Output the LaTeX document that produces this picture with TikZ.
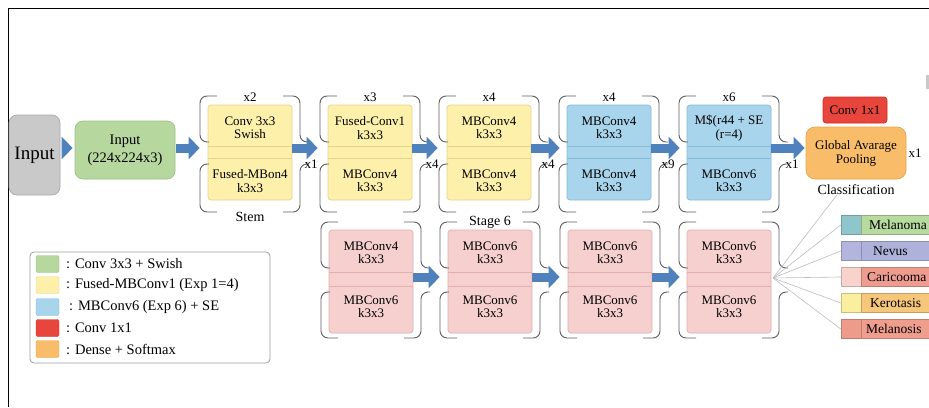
\documentclass[tikz,border=0pt]{standalone}
\usepackage{fontspec}
\setmainfont{Liberation Serif}
\usetikzlibrary{arrows.meta,calc}

\definecolor{grayfill}{HTML}{C9C9C9}
\definecolor{grayline}{HTML}{A8A8A8}
\definecolor{grnfill}{HTML}{B6D79E}
\definecolor{grnline}{HTML}{9CC386}
\definecolor{yelfill}{HTML}{FDF0AA}
\definecolor{yelline}{HTML}{E6D38E}
\definecolor{blufill}{HTML}{A9D5EC}
\definecolor{bluline}{HTML}{86BCD9}
\definecolor{pnkfill}{HTML}{F6D0CE}
\definecolor{pnkline}{HTML}{E2AFAC}
\definecolor{redfill}{HTML}{E8453C}
\definecolor{redline}{HTML}{CC3128}
\definecolor{orgfill}{HTML}{F9BD69}
\definecolor{orgline}{HTML}{E9A449}
\definecolor{arrblue}{HTML}{4F81BD}
\definecolor{brkgray}{HTML}{5E5E5E}
\definecolor{fangray}{HTML}{BDBDBD}
\definecolor{legline}{HTML}{9E9E9E}
\definecolor{tealsq}{HTML}{8FC6CB}
\definecolor{melgrn}{HTML}{B7DA9F}
\definecolor{nevsq}{HTML}{B3B5DD}
\definecolor{nevbar}{HTML}{AEB1DA}
\definecolor{carsq}{HTML}{F7D3CC}
\definecolor{carbar}{HTML}{EE9C8F}
\definecolor{kersq}{HTML}{F9EF9E}
\definecolor{kerbar}{HTML}{F6C77A}
\definecolor{mlssq}{HTML}{EF9B8B}
\definecolor{mlsbar}{HTML}{EF9D8D}

\tikzset{
  bx/.style={rounded corners=3pt, line width=0.7pt, inner sep=0pt},
  yel/.style={bx, fill=yelfill, draw=yelline},
  blu/.style={bx, fill=blufill, draw=bluline},
  pnk/.style={bx, fill=pnkfill, draw=pnkline},
  txt/.style={font=\fontsize{13}{13.5}\selectfont, align=center, inner sep=0pt},
  lbl/.style={font=\fontsize{13}{14}\selectfont, inner sep=0pt},
  biglbl/.style={font=\fontsize{14}{15}\selectfont, inner sep=0pt},
  barrow/.style={draw=arrblue, line width=9pt, -{Triangle[length=11pt,width=22pt]}},
  brk/.style={draw=brkgray, line width=0.9pt, rounded corners=7pt},
  fanline/.style={draw=fangray, line width=0.6pt},
  legtxt/.style={font=\fontsize{14.5}{15}\selectfont, anchor=west, inner sep=0pt},
  swatch/.style={rounded corners=2pt, minimum width=23pt, minimum height=17pt, inner sep=0pt, line width=0.4pt},
  clstxt/.style={font=\fontsize{13.5}{15}\selectfont, anchor=west, inner sep=0pt},
  clsbox/.style={inner sep=0pt, minimum height=19pt, line width=0.5pt},
}

\newcommand{\toprowbox}[5]{%
  \node[#3, minimum width=84pt, minimum height=95pt] (#1) at (#2,152.5) {};
  \draw[#3] (#2-42,146) -- (#2+42,146);
  \draw[#3] (#2-42,158) -- (#2+42,158);
  \node[txt] (#1u) at (#2,128) {#4};
  \node[txt] (#1l) at (#2,181) {#5};
}
\newcommand{\botrowbox}[5]{%
  \node[#3, minimum width=84pt, minimum height=103pt] (#1) at (#2,281.5) {};
  \draw[#3] (#2-42,272) -- (#2+42,272);
  \draw[#3] (#2-42,286) -- (#2+42,286);
  \node[txt] (#1u) at (#2,253) {#4};
  \node[txt] (#1l) at (#2,307) {#5};
}
\newcommand{\grpbrackets}[6]{%
  \draw[brk] (#1+9,#3) -- (#1-8,#3) -- (#1-8,#5) -- (#1+1,#5);
  \draw[brk] (#1+1,#6) -- (#1-8,#6) -- (#1-8,#4) -- (#1+9,#4);
  \draw[brk] (#2-9,#3) -- (#2+8,#3) -- (#2+8,#5) -- (#2+17,#5);
  \draw[brk] (#2+17,#6) -- (#2+8,#6) -- (#2+8,#4) -- (#2-9,#4);
}
\newcommand{\clsrow}[6]{%
  \node[clsbox, fill=#3, draw=#3!80!black, minimum width=20pt] (#1sq) at (851,#2) {};
  \node[clsbox, fill=#4, draw=#4!80!black, minimum width=90pt, anchor=west] (#1bar) at (861,#2) {};
  \node[clstxt] (#1txt) at (#6,#2) {#5};
}

\begin{document}
\begin{tikzpicture}[x=1pt,y=-1pt]
\useasboundingbox (0,0) rectangle (929,407);
\clip (0,0) rectangle (929,407);
\fill[white] (0,0) rectangle (929,407);
\draw[line width=1.3pt] (8.5,407) -- (8.5,8.5) -- (929,8.5);

\coordinate (ty) at (0,148);
\coordinate (by) at (0,277);

% input blocks
\node[bx, rounded corners=8pt, fill=grayfill, draw=grayline, minimum width=51pt, minimum height=80pt, font=\fontsize{19}{20}\selectfont] (inp) at (34.5,155) {Input};
\node[bx, rounded corners=8pt, fill=grnfill, draw=grnline, minimum width=100pt, minimum height=58pt, align=center, font=\fontsize{14.5}{18}\selectfont] (grn) at (125,150) {Input\\(224x224x3)};

% top row
\toprowbox{ga}{250}{yel}{Conv 3x3\\Swish}{Fused-MBon4\\k3x3}
\toprowbox{gb}{370}{yel}{Fused-Conv1\\k3x3}{MBConv4\\k3x3}
\toprowbox{gc}{489}{yel}{MBConv4\\k3x3}{MBConv4\\k3x3}
\toprowbox{gd}{609}{blu}{MBConv4\\k3x3}{MBConv4\\k3x3}
\toprowbox{ge}{729}{blu}{M\$(r44 + SE\\(r=4)}{MBConv6\\k3x3}

\grpbrackets{208}{292}{96}{212}{142}{164}
\grpbrackets{328}{412}{96}{212}{142}{164}
\grpbrackets{447}{531}{96}{212}{142}{164}
\grpbrackets{567}{651}{96}{212}{142}{164}
\grpbrackets{687}{771}{96}{212}{142}{164}

\node[lbl] (ma) at (250,97) {x2};
\node[lbl] (mb) at (370,97) {x3};
\node[lbl] (mc) at (489,97) {x4};
\node[lbl] (md) at (609,97) {x4};
\node[lbl] (me) at (729,97) {x6};
\node[biglbl] (stem) at (250,217) {Stem};

\node[lbl] (ra) at (311,164) {x1};
\node[lbl] (rb) at (432,164) {x4};
\node[lbl] (rc) at (548,164) {x4};
\node[lbl] (rd) at (668,164) {x9};
\node[lbl] (re) at (792,164) {x1};

% head
\node[bx, rounded corners=9pt, fill=orgfill, draw=orgline, minimum width=100pt, minimum height=52pt, align=center, font=\fontsize{13}{14}\selectfont] (gap) at (856,153) {Global Avarage\\Pooling};
\node[bx, fill=redfill, draw=redline, minimum width=64pt, minimum height=26pt, font=\fontsize{13}{14}\selectfont] (cv) at (855,110) {Conv 1x1};
\node[biglbl] (cls) at (856,190) {Classification};
\node[lbl] (rf) at (915,153) {x1};
\node[fill=grayfill, inner sep=0pt, minimum width=4pt, minimum height=14pt] (frag) at (927.5,82) {};

% bottom row
\botrowbox{ba}{371}{pnk}{MBConv4\\k3x3}{MBConv6\\k3x3}
\botrowbox{bb}{490}{pnk}{MBConv6\\k3x3}{MBConv6\\k3x3}
\botrowbox{bc}{610}{pnk}{MBConv6\\k3x3}{MBConv6\\k3x3}
\botrowbox{bd}{729}{pnk}{MBConv6\\k3x3}{MBConv6\\k3x3}

\grpbrackets{329}{413}{222}{338}{268}{292}
\grpbrackets{448}{532}{222}{338}{268}{292}
\grpbrackets{568}{652}{222}{338}{268}{292}
\grpbrackets{687}{771}{222}{338}{268}{292}
\node[biglbl, fill=white, inner xsep=3pt] (st6) at (490,222) {Stage 6};

% arrows
\draw[barrow, shorten <=2pt, shorten >=2pt] (inp.east |- ty) -- (grn.west |- ty);
\draw[barrow, shorten <=1pt, shorten >=8pt] (grn.east |- ty) -- (ga.west |- ty);
\draw[barrow, shorten >=10pt] (ga.east |- ty) -- (gb.west |- ty);
\draw[barrow, shorten >=9pt] (gb.east |- ty) -- (gc.west |- ty);
\draw[barrow, shorten >=7pt] (gc.east |- ty) -- (gd.west |- ty);
\draw[barrow, shorten >=7pt] (gd.east |- ty) -- (ge.west |- ty);
\draw[barrow, shorten >=1pt] (ge.east |- ty) -- (gap.west |- ty);
\draw[barrow, shorten >=8pt] (ba.east |- by) -- (bb.west |- by);
\draw[barrow, shorten >=8pt] (bb.east |- by) -- (bc.west |- by);
\draw[barrow, shorten >=7pt] (bc.east |- by) -- (bd.west |- by);

% classes
\clsrow{ca}{225}{tealsq}{melgrn}{Melanoma}{869}
\clsrow{cb}{251}{nevsq}{nevbar}{Nevus}{873}
\clsrow{cc}{277}{carsq}{carbar}{Caricooma}{867}
\clsrow{cd}{303}{kersq}{kerbar}{Kerotasis}{870}
\clsrow{ce}{329}{mlssq}{mlsbar}{Melanosis}{866}

\coordinate (fan) at (773,278);
\draw[fanline] (fan) -- ($(cls.south)!0.5!(cls.south west)$);
\draw[fanline] (fan) -- (casq.west);
\draw[fanline] (fan) -- (cbsq.west);
\draw[fanline] (fan) -- (ccsq.west);
\draw[fanline] (fan) -- (cdsq.west);
\draw[fanline] (fan) -- (cesq.west);

% legend
\node[draw=legline, line width=0.8pt, rounded corners=4pt, minimum width=240pt, minimum height=111pt, inner sep=0pt] (leg) at (150,307.5) {};
\node[swatch, fill=grnfill, draw=grnline] (s1) at (47.5,264) {};
\node[swatch, fill=yelfill, draw=yelline] (s2) at (47.5,285) {};
\node[swatch, fill=blufill, draw=bluline] (s3) at (47.5,307) {};
\node[swatch, fill=redfill, draw=redline] (s4) at (47.5,328) {};
\node[swatch, fill=orgfill, draw=orgline] (s5) at (47.5,349) {};
\node[legtxt] (l1) at (66,264) {: Conv 3x3 + Swish};
\node[legtxt] (l2) at (66,285) {: Fused-MBConv1 (Exp 1=4)};
\node[legtxt] (l3) at (69,307) {: MBConv6 (Exp 6) + SE};
\node[legtxt] (l4) at (66,328) {: Conv 1x1};
\node[legtxt] (l5) at (66,349) {: Dense + Softmax};
\end{tikzpicture}
\end{document}
